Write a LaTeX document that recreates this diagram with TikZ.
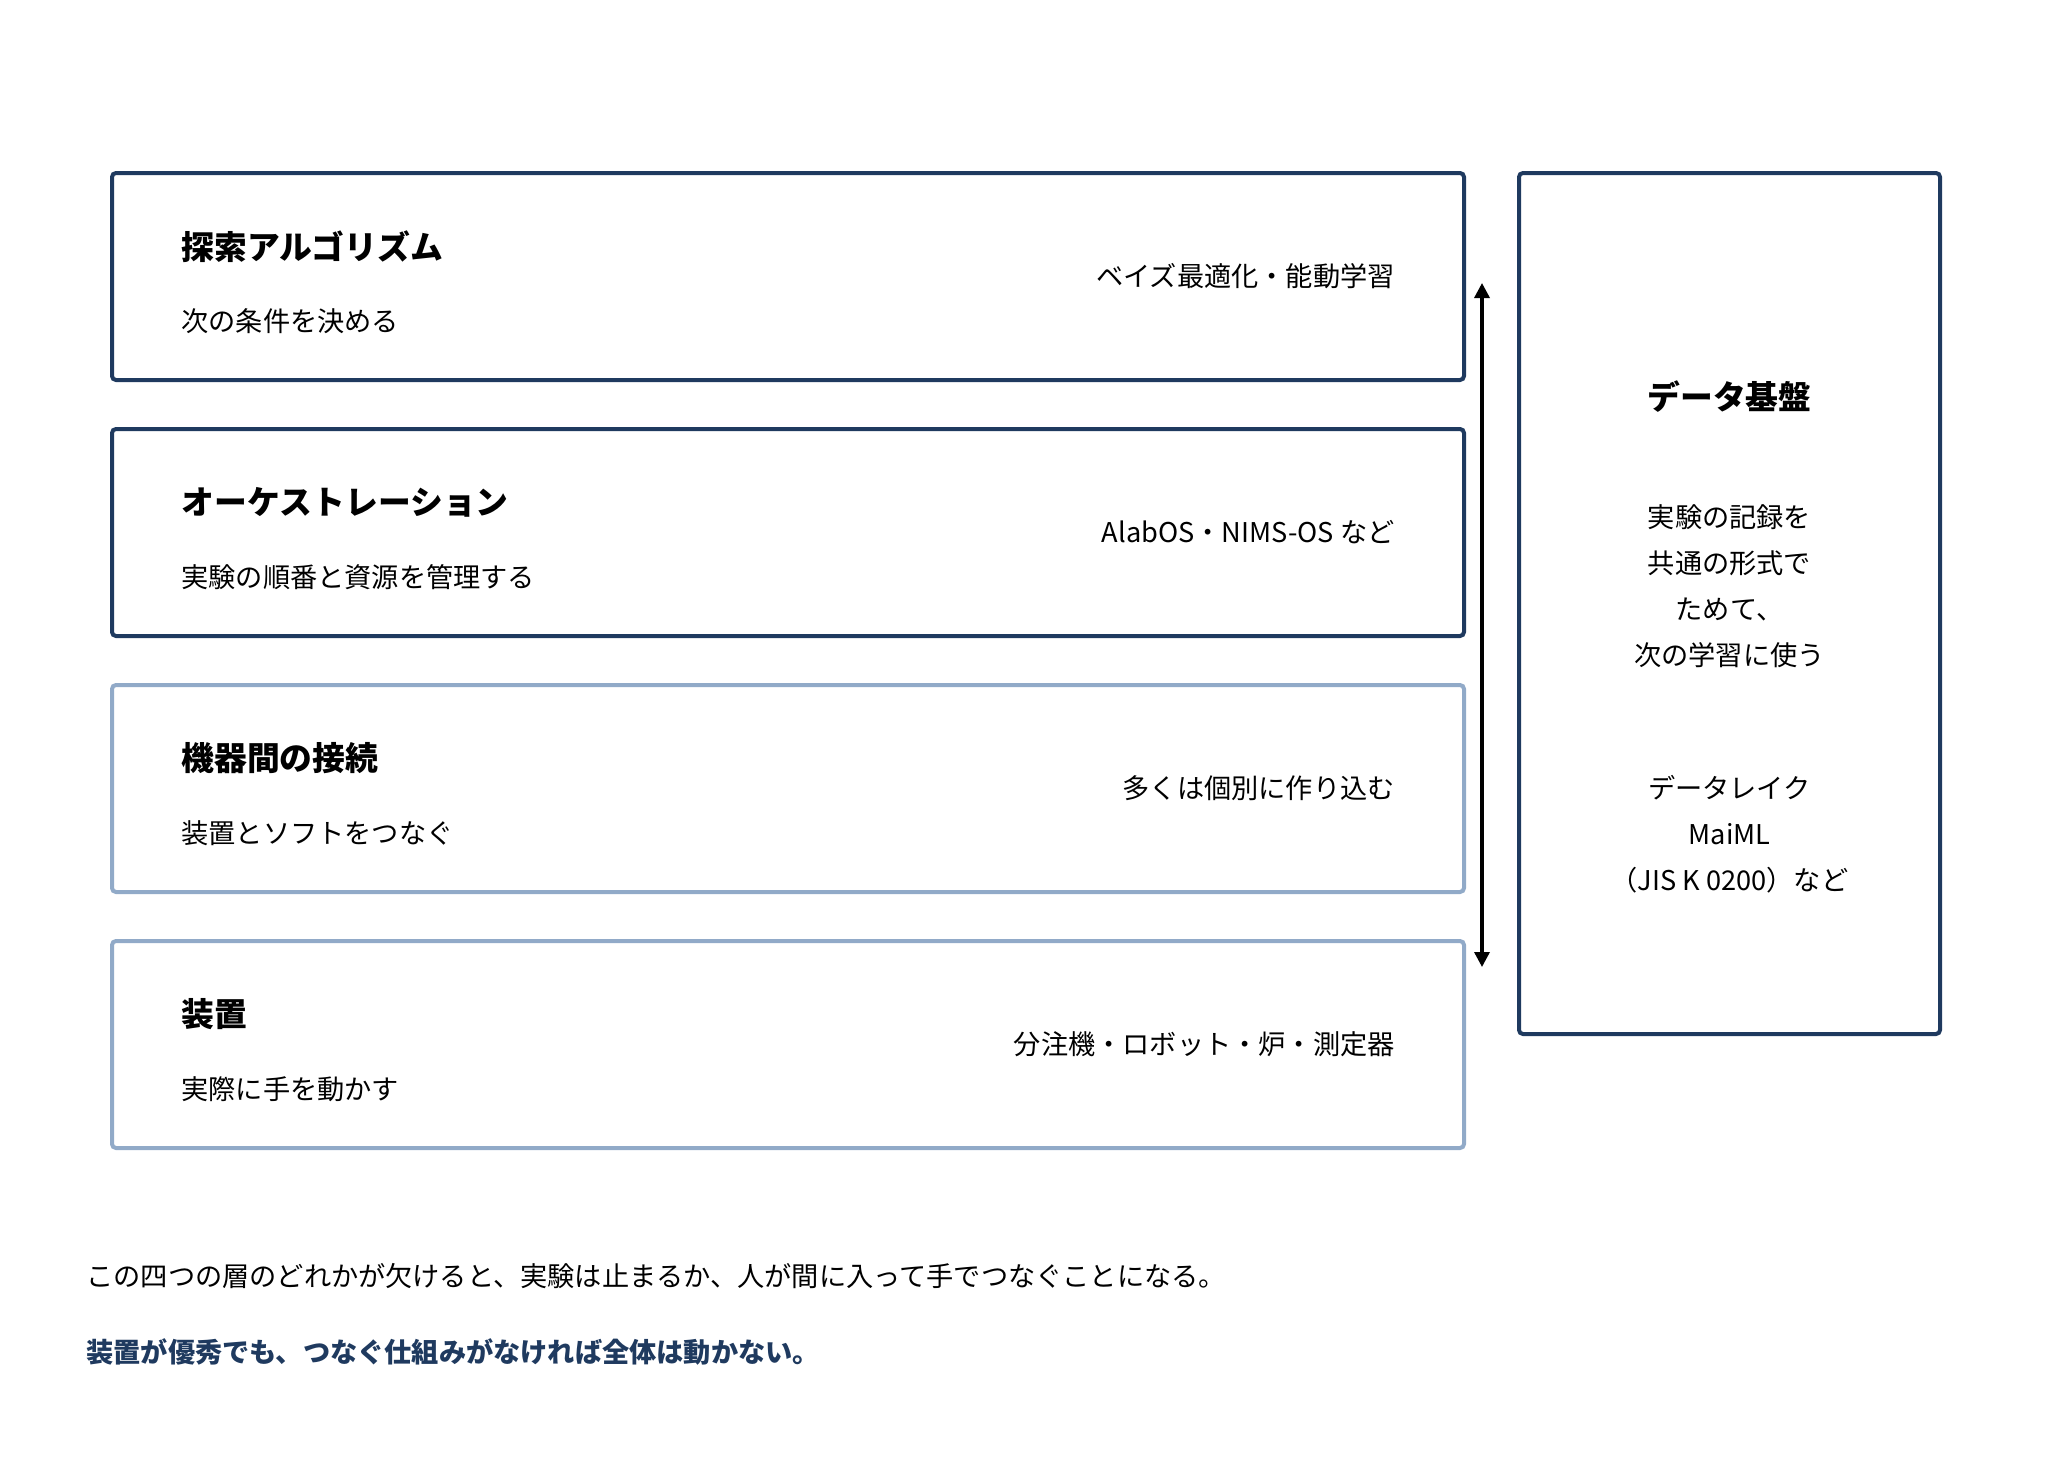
\documentclass[tikz,border=0pt]{standalone}
\usepackage{fontspec}
\setmainfont{Noto Sans CJK JP}
\usepackage{xcolor}
\usepackage{tikz}
\usetikzlibrary{positioning, arrows.meta}

\definecolor{navy}{HTML}{1F3A5F}
\definecolor{paleblue}{HTML}{91AAC8}

\begin{document}
\begin{tikzpicture}[node distance=24.5pt,
		layer/.style={draw=navy, line width=2pt, rounded corners=2pt, minimum width=676pt, minimum height=103.5pt, inner sep=0pt, outer sep=0pt},
		soft/.style={layer, draw=paleblue},
		title/.style={font=\fontsize{16.4pt}{20pt}\selectfont\bfseries, inner sep=0pt},
		note/.style={font=\fontsize{13.6pt}{16pt}\selectfont, inner sep=0pt},
		strong/.style={font=\fontsize{13.6pt}{16pt}\selectfont\bfseries, inner sep=0pt, text=navy}]
		\useasboundingbox (0,0) rectangle (1026pt,-736pt);
		
		% the four layers
		\node[layer, anchor=north west] (algo) at (56pt,-86.5pt) {};
		\node[layer] (orch) [below=of algo] {};
		\node[soft] (link) [below=of orch] {};
		\node[soft] (dev) [below=of link] {};
		
		\node[title, anchor=west] (algo-t) at ([xshift=34.5pt, yshift=15pt]algo.west) {探索アルゴリズム};
		\node[note, anchor=west] (algo-s) at ([xshift=34.5pt, yshift=-22.25pt]algo.west) {次の条件を決める};
		\node[note, anchor=east] (algo-r) at ([xshift=-34.5pt]algo.east) {ベイズ最適化・能動学習};
		
		\node[title, anchor=west] (orch-t) at ([xshift=34.5pt, yshift=15pt]orch.west) {オーケストレーション};
		\node[note, anchor=west] (orch-s) at ([xshift=34.5pt, yshift=-22.25pt]orch.west) {実験の順番と資源を管理する};
		\node[note, anchor=east] (orch-r) at ([xshift=-34.5pt]orch.east) {AlabOS・NIMS-OS など};
		
		\node[title, anchor=west] (link-t) at ([xshift=34.5pt, yshift=15pt]link.west) {機器間の接続};
		\node[note, anchor=west] (link-s) at ([xshift=34.5pt, yshift=-22.25pt]link.west) {装置とソフトをつなぐ};
		\node[note, anchor=east] (link-r) at ([xshift=-34.5pt]link.east) {多くは個別に作り込む};
		
		\node[title, anchor=west] (dev-t) at ([xshift=34.5pt, yshift=15pt]dev.west) {装置};
		\node[note, anchor=west] (dev-s) at ([xshift=34.5pt, yshift=-22.25pt]dev.west) {実際に手を動かす};
		\node[note, anchor=east] (dev-r) at ([xshift=-34.5pt]dev.east) {分注機・ロボット・炉・測定器};
		
		% data platform on the right
		\node[layer, minimum width=210.5pt, minimum height=430.5pt] (data) [right=27.5pt of algo.north east, anchor=north west] {};
		\node[title] (data-t) at ([yshift=-112pt]data.north) {データ基盤};
		\node[note, align=center, font=\fontsize{13.6pt}{23pt}\selectfont] (data-s) at ([yshift=-206.5pt]data.north) {実験の記録を\\共通の形式で\\ためて、\\次の学習に使う};
		\node[note, align=center, font=\fontsize{13.6pt}{23pt}\selectfont] (data-r) at ([yshift=-330.75pt]data.north) {データレイク\\MaiML\\（JIS K 0200）など};
		
		\coordinate (loop-top) at ([xshift=9pt, yshift=-55pt]algo.north east);
		\coordinate (loop-bot) at ([xshift=9pt, yshift=-13pt]dev.north east);
		\draw[{Triangle[length=7.5pt, width=7.5pt]}-{Triangle[length=7.5pt, width=7.5pt]}, line width=1.65pt] (loop-top) -- (loop-bot);
		
		% closing remarks
		\node[note, anchor=west] (warn) at ([xshift=-13pt, yshift=-64pt]dev.south west) {この四つの層のどれかが欠けると、実験は止まるか、人が間に入って手でつなぐことになる。};
		\node[strong, anchor=west] (punch) at ([yshift=-38pt]warn.west) {装置が優秀でも、つなぐ仕組みがなければ全体は動かない。};
	\end{tikzpicture}
\end{document}
